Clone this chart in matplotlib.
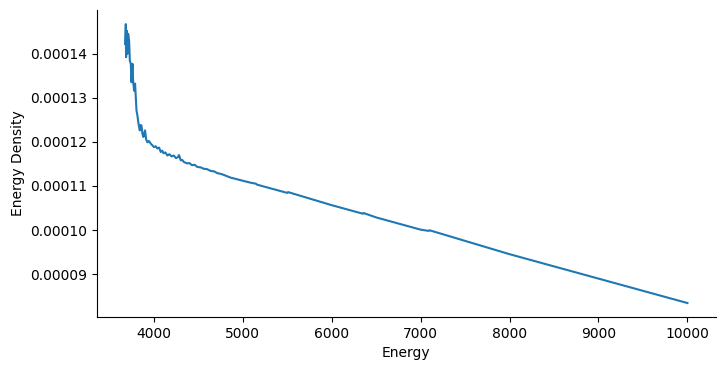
import numpy as np
import matplotlib
matplotlib.use('Agg')
import matplotlib.pyplot as plt

# energy values
energy = [3678, 3686, 3689, 3697, 3705, 3712, 3723, 3731, 3742, 3750, 3761,
          3768, 3779, 3790, 3806, 3816, 3828, 3843, 3852, 3862, 3873, 3884,
          3902, 3915, 3929, 3945, 3966, 3985, 4003, 4022, 4041, 4060, 4079,
          4095, 4110, 4130, 4154, 4175, 4200, 4225, 4250, 4270, 4284, 4303,
          4320, 4340, 4378, 4400, 4430, 4460, 4490, 4530, 4560, 4600, 4640,
          4680, 4714, 4760, 4800, 4864, 4920, 5000, 5088, 5150, 5160, 5500,
          5510, 6000, 6350, 6360, 6500, 7000, 7090, 7100, 8000, 9000, 10000]
density = [1.4219e-4, 1.4670e-4, 1.3920e-4, 1.4520e-4, 1.4000e-4, 1.4450e-4,
           1.4290e-4, 1.3840e-4, 1.3770e-4, 1.3350e-4, 1.3770e-4, 1.3390e-4,
           1.3160e-4, 1.3320e-4, 1.2710e-4, 1.2600e-4, 1.2420e-4, 1.2260e-4,
           1.2380e-4, 1.2370e-4, 1.2180e-4, 1.2110e-4, 1.2260e-4, 1.2050e-4,
           1.1990e-4, 1.2020e-4, 1.1960e-4, 1.1920e-4, 1.1880e-4, 1.1900e-4,
           1.1850e-4, 1.1870e-4, 1.1770e-4, 1.1800e-4, 1.1740e-4, 1.1760e-4,
           1.1690e-4, 1.1720e-4, 1.1670e-4, 1.1690e-4, 1.1630e-4, 1.1650e-4,
           1.1700e-4, 1.1580e-4, 1.1590e-4, 1.1540e-4, 1.1510e-4, 1.1520e-4,
           1.1470e-4, 1.1480e-4, 1.1430e-4, 1.1420e-4, 1.1390e-4, 1.1380e-4,
           1.1340e-4, 1.1330e-4, 1.1290e-4, 1.1270e-4, 1.1240e-4, 1.1188e-4,
           1.1160e-4, 1.1118e-4, 1.1074e-4, 1.1050e-4, 1.1030e-4, 1.0842e-4,
           1.0860e-4, 1.0564e-4, 1.0370e-4, 1.0385e-4, 1.0286e-4, 1.0009e-4,
           0.9980e-4, 0.9995e-4, 0.9452e-4, 0.8898e-4, 0.8344e-4]

fig = plt.figure(figsize=(7.26, 3.71), dpi=100)
ax = fig.add_axes([0.1336, 0.1456, 0.852, 0.827])
ax.plot(energy, density, color='#1f77b4', linewidth=1.5)
ax.spines['top'].set_visible(False)
ax.spines['right'].set_visible(False)
ax.set_xlabel('Energy')
ax.set_ylabel('Energy Density')

fig.savefig('out.png', dpi=100)
